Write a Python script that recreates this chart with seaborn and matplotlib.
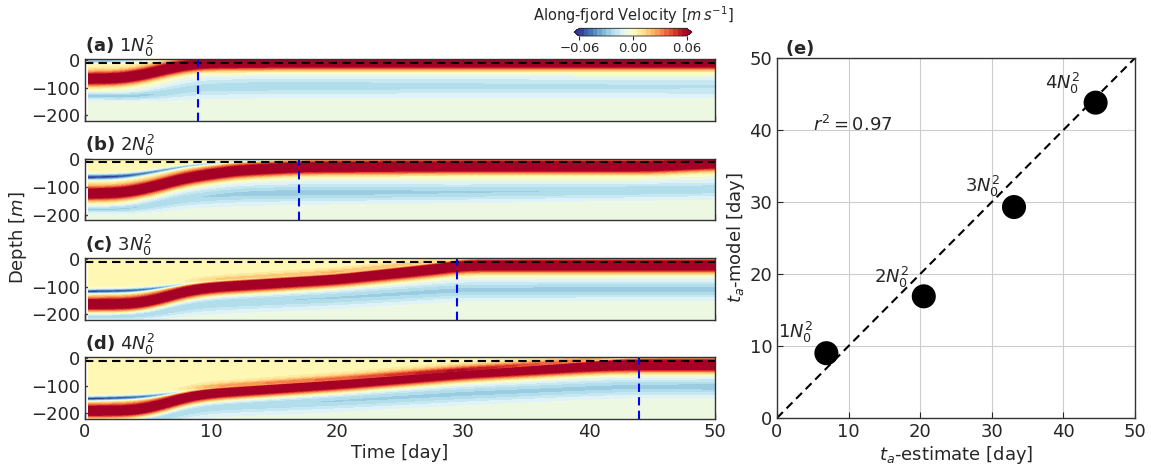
import numpy as np
import pandas as pd
import matplotlib
matplotlib.use("Agg")
import matplotlib.pyplot as plt
import seaborn as sns

# ---------------- data ----------------
labels = ["1N", "2N", "3N", "4N"]
panel_letters = ["(a)", "(b)", "(c)", "(d)"]
strat_factor = [1, 2, 3, 4]

# arrival time from model (vertical blue lines) [day]
t_arrival = [9.0, 17.0, 29.5, 44.0]

# scatter panel (e)
ta_estimate = [6.9, 20.5, 33.1, 44.5]
ta_model = [9.0, 16.9, 29.3, 43.8]
label_x = [0.2, 13.5, 26.3, 37.4]
label_y = [11.1, 18.8, 31.4, 45.7]

# plume-core / counter-flow depths at knot times, per panel  [day], [m]
knot_t = [
    [0, 3, 5, 7, 9, 15, 30, 50],
    [0, 3, 5, 8, 12, 17, 30, 45, 50],
    [0, 4, 6, 8, 10, 20, 28, 30, 50],
    [0, 4, 6, 8, 10, 20, 30, 40, 43, 50],
]
core_depth = [
    [-70, -68, -52, -28, -14, -12, -12, -12],
    [-125, -122, -105, -68, -42, -30, -27, -27, -16],
    [-165, -163, -145, -117, -104, -75, -38, -26, -26],
    [-192, -190, -172, -142, -128, -96, -58, -32, -28, -28],
]
upper_depth = [
    [-6, -5, 0, 6, 8, 8, 8, 8],
    [-65, -63, -50, -25, -8, 0, 3, 3, 5],
    [-118, -115, -105, -90, -82, -55, -15, 0, 3],
    [-148, -143, -135, -120, -110, -82, -50, -15, 0, 3],
]
upper_amp = [
    [-0.04, -0.03, -0.02, -0.02, -0.02, -0.02, -0.02, -0.02],
    [-0.065, -0.06, -0.05, -0.035, -0.03, -0.03, -0.03, -0.03, -0.03],
    [-0.065, -0.06, -0.045, -0.035, -0.03, -0.028, -0.025, -0.025, -0.025],
    [-0.065, -0.06, -0.045, -0.035, -0.03, -0.028, -0.025, -0.025, -0.025, -0.025],
]
upper_width = [
    [8, 8, 8, 8, 8, 8, 8, 8],
    [11, 11, 9, 7, 6, 6, 6, 6, 6],
    [9, 9, 8, 6, 5, 5, 5, 5, 5],
    [9, 9, 8, 6, 5, 5, 5, 5, 5, 5],
]
lower_depth = [
    [-130, -132, -128, -115, -100, -95, -95, -98],
    [-180, -180, -168, -140, -125, -120, -118, -112, -108],
    [-205, -205, -190, -170, -160, -140, -118, -112, -110],
    [-235, -232, -215, -190, -175, -155, -130, -110, -105, -105],
]
lower_amp = [
    [-0.022, -0.022, -0.02, -0.016, -0.016, -0.017, -0.015, -0.014],
    [-0.02, -0.02, -0.018, -0.018, -0.02, -0.021, -0.019, -0.018, -0.018],
    [-0.02, -0.02, -0.019, -0.018, -0.018, -0.019, -0.02, -0.02, -0.021],
    [-0.02, -0.02, -0.019, -0.018, -0.018, -0.019, -0.02, -0.02, -0.02, -0.021],
]
lower_width = [
    [14, 14, 18, 28, 35, 36, 36, 36],
    [14, 14, 22, 30, 34, 34, 32, 30, 30],
    [16, 16, 24, 30, 32, 32, 32, 32, 32],
    [16, 16, 24, 30, 32, 32, 32, 32, 32, 32],
]

cbar_ticks = [-0.06, 0.0, 0.06]
cbar_ticklabels = ["\u22120.06", "0.00", "0.06"]

# ---------------- style ----------------
sns.set_style("ticks")
plt.rcParams["font.family"] = ["DejaVu Sans"]
plt.rcParams["mathtext.fontset"] = "dejavusans"

W, H = 1151, 468
fig = plt.figure(figsize=(W / 100, H / 100), dpi=100)

time = np.linspace(0.3, 50, 500)
depth = np.linspace(-222, 4, 300)
T, Z = np.meshgrid(time, depth)
levels = np.linspace(-0.06, 0.06, 25)
cmap = plt.get_cmap("RdYlBu_r")


def curve(kt, vals, sig_days=1.0):
    c = np.interp(time, kt, vals)
    dt = time[1] - time[0]
    n = int(4 * sig_days / dt)
    k = np.exp(-0.5 * (np.arange(-n, n + 1) * dt / sig_days) ** 2)
    k /= k.sum()
    cp = np.concatenate([np.full(n, c[0]), c, np.full(n, c[-1])])
    return np.convolve(cp, k, mode="valid")


tops = [59, 158.5, 258, 357]
ph = 61.5
left_px, right_px = 85, 715
axes_left = []
cf = None
for i in range(4):
    b = 1 - (tops[i] + ph) / H
    ax = fig.add_axes([left_px / W, b, (right_px - left_px) / W, ph / H])
    axes_left.append(ax)
    kt = knot_t[i]
    zc = curve(kt, core_depth[i])
    zu = curve(kt, upper_depth[i])
    au = curve(kt, upper_amp[i])
    wu = curve(kt, upper_width[i])
    zl = curve(kt, lower_depth[i])
    al = curve(kt, lower_amp[i])
    wl = curve(kt, lower_width[i])
    v = (0.09 * np.exp(-((Z - zc) / 23.0) ** 2)
         + au * np.exp(-((Z - zu) / wu) ** 2)
         + al * np.exp(-((Z - zl) / wl) ** 2)
         + np.where(Z > zc, 0.002, -0.0065) * np.abs(np.tanh((Z - zc) / 12.0)))
    cf = ax.contourf(T, Z, v, levels=levels, cmap=cmap, extend="both")
    ax.axhline(-12, color="black", ls=(0, (4, 2.5)), lw=1.5)
    ax.axvline(t_arrival[i], color="blue", ls=(0, (4, 2.5)), lw=1.5)
    ax.set_xlim(0, 50)
    ax.set_ylim(-218, 2)
    ax.set_yticks([0, -100, -200])
    ax.set_xticks([0, 10, 20, 30, 40, 50])
    ax.tick_params(direction="in", labelsize=13, length=4, width=1, color="#444444")
    for s in ax.spines.values():
        s.set_color("#333333")
        s.set_linewidth(1.0)
    if i < 3:
        ax.tick_params(labelbottom=False)
    ax.set_title(r"$\mathbf{" + panel_letters[i] + r"}$ $" + str(strat_factor[i]) + r"N_0^2$",
                 loc="left", fontsize=13, pad=2)

axes_left[3].set_xlabel("Time [day]", fontsize=13, labelpad=2)
fig.text(18 / W, 1 - 238 / H, r"Depth [$m$]", rotation=90, fontsize=13,
         ha="center", va="center")

# colorbar
cax = fig.add_axes([574 / W, 1 - 36 / H, 118 / W, 7.7 / H])
cb = fig.colorbar(cf, cax=cax, orientation="horizontal", ticks=cbar_ticks, extendfrac=0.05)
cb.set_ticklabels(cbar_ticklabels)
cax.tick_params(labelsize=9.5, length=3, pad=1)
cb.outline.set_linewidth(0.6)
cax.set_title(r"Along-fjord Velocity [$m\,s^{-1}$]", fontsize=10.5, pad=5)

# scatter panel (e)
axe = fig.add_axes([777 / W, 1 - 418 / H, 358 / W, 360 / H])
df = pd.DataFrame({"estimate": ta_estimate, "model": ta_model, "case": labels})
line_df = pd.DataFrame({"x": [0, 50], "y": [0, 50]})
sns.lineplot(data=line_df, x="x", y="y", ax=axe, color="black", lw=1.5,
             linestyle=(0, (4, 2.5)))
sns.scatterplot(data=df, x="estimate", y="model", ax=axe, s=300, color="black",
                edgecolor="none", zorder=5)
for i in range(4):
    axe.text(label_x[i], label_y[i], r"$" + str(strat_factor[i]) + r"N_0^2$",
             fontsize=13, ha="left", va="baseline")
axe.text(5.0, 39.9, r"$r^2 = 0.97$", fontsize=13, ha="left", va="baseline")
axe.set_xlim(0, 50)
axe.set_ylim(0, 50)
axe.set_xticks([0, 10, 20, 30, 40, 50])
axe.set_yticks([0, 10, 20, 30, 40, 50])
axe.grid(True, color="#cccccc", lw=0.8)
axe.set_axisbelow(True)
axe.tick_params(direction="in", labelsize=13, length=4)
for s in axe.spines.values():
    s.set_color("#333333")
    s.set_linewidth(1.0)
axe.set_xlabel(r"$t_a$-estimate [day]", fontsize=13, labelpad=2)
axe.set_ylabel(r"$t_a$-model [day]", fontsize=13, labelpad=2)
axe.set_title(r"$\mathbf{(e)}$", loc="left", fontsize=13, pad=2, x=0.022)

fig.savefig("out.png", dpi=100)
